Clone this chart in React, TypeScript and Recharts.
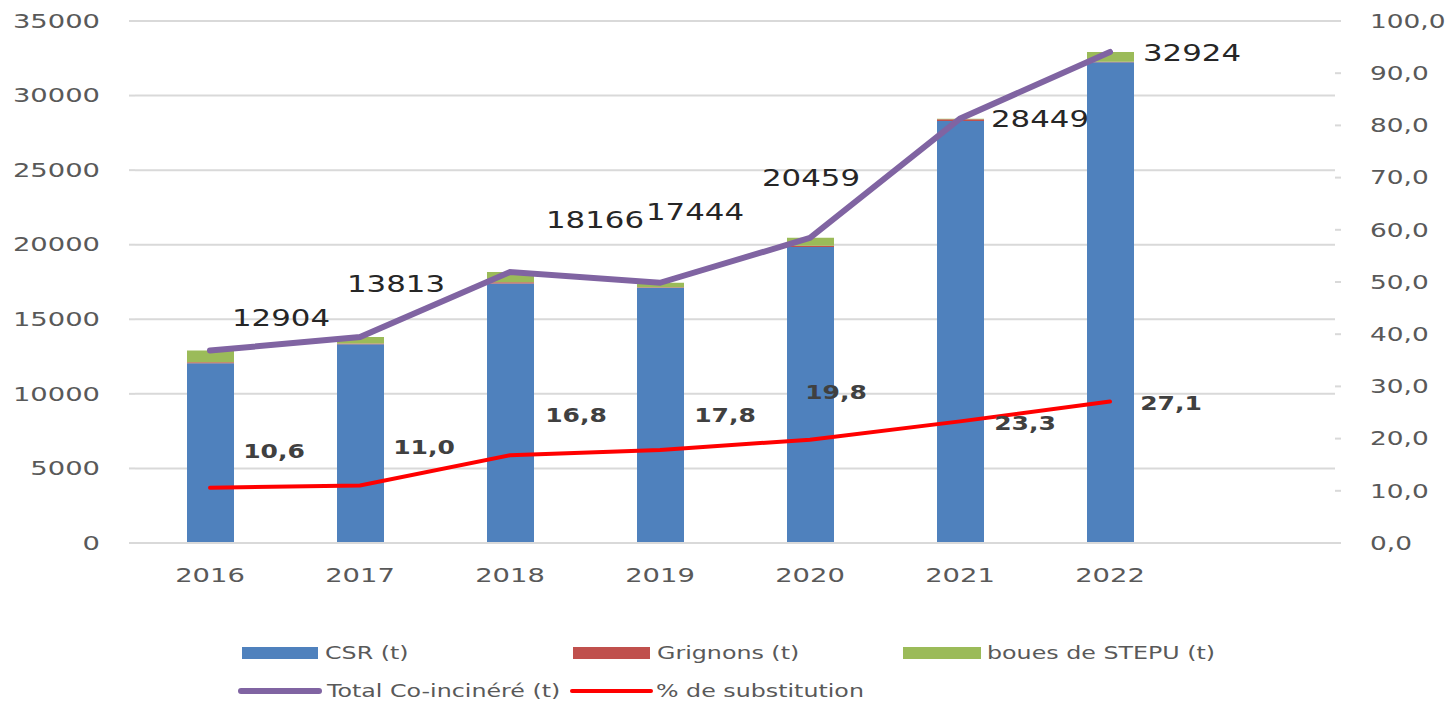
import React from 'react'
import { ComposedChart, Bar, Line, XAxis, YAxis, CartesianGrid, LabelList } from 'recharts'

const years = ['2016', '2017', '2018', '2019', '2020', '2021', '2022', '']
const csr = [12050, 13320, 17400, 17110, 19850, 28300, 32230]
const grignons = [70, 60, 80, 30, 80, 110, 30]
const boues = [784, 433, 686, 304, 529, 39, 664]
const totals = [12904, 13813, 18166, 17444, 20459, 28449, 32924]
const substitution = [10.6, 11.0, 16.8, 17.8, 19.8, 23.3, 27.1]

const leftTicks = [0, 5000, 10000, 15000, 20000, 25000, 30000, 35000]
const rightTicks = [0, 10, 20, 30, 40, 50, 60, 70, 80, 90, 100]

// label placement relative to the point (text centre)
const totalOffsets = [[71, -33], [36, -53], [85, -52], [35, -71], [1, -60], [80, 0], [82, 1]]
const pctOffsets = [[64, -37], [64, -39], [66, -40], [65, -35], [26, -48], [65, 2], [61, 1]]

const COLORS = {
  csr: '#4F81BD',
  grignons: '#C0504D',
  boues: '#9BBB59',
  total: '#8064A2',
  pct: '#FF0000',
  grid: '#D9D9D9',
  tick: '#595959'
}

const FONT = '"DejaVu Sans", sans-serif'

const data = years.map((year, i) => ({
  year,
  csr: csr[i],
  grignons: grignons[i],
  boues: boues[i],
  total: totals[i],
  pct: substitution[i]
}))

const fmtPct = (v: number) => v.toFixed(1).replace('.', ',')

function SText({ x, y, sx, anchor = 'middle', size, weight = 'normal', fill, children }: any) {
  return (
    <text
      transform={`translate(${x},${y}) scale(${sx},1)`}
      textAnchor={anchor}
      dominantBaseline="central"
      fontSize={size}
      fontWeight={weight}
      fill={fill}
      fontFamily={FONT}
    >
      {children}
    </text>
  )
}

const LeftTick = ({ x, y, payload }: any) => (
  <SText x={x - 27} y={y} sx={1.37} anchor="end" size={20} fill={COLORS.tick}>{payload.value}</SText>
)

const RightTick = ({ x, y, payload }: any) => (
  <SText x={x + 27} y={y} sx={1.32} anchor="start" size={20} fill={COLORS.tick}>{fmtPct(payload.value)}</SText>
)

const XTick = ({ x, y, payload }: any) => (
  <SText x={x} y={y + 24} sx={1.37} size={20} fill={COLORS.tick}>{payload.value}</SText>
)

const TotalLabel = ({ x, y, value, index }: any) => {
  if (value == null) return null
  const [dx, dy] = totalOffsets[index]
  return <SText x={x + dx} y={y + dy} sx={1.34} size={23} fill="#262626">{value}</SText>
}

const PctLabel = ({ x, y, value, index }: any) => {
  if (value == null) return null
  const [dx, dy] = pctOffsets[index]
  return <SText x={x + dx} y={y + dy} sx={1.25} size={20} weight="bold" fill="#404040">{fmtPct(value)}</SText>
}

function LegendOverlay() {
  const t = (x: number, y: number, s: string) => (
    <SText x={x} y={y} sx={1.32} anchor="start" size={18} fill={COLORS.tick}>{s}</SText>
  )
  return (
    <svg width={1446} height={704} style={{ position: 'absolute', left: 0, top: 0, pointerEvents: 'none' }}>
      <rect x={242} y={647} width={76} height={12} fill={COLORS.csr} />
      {t(325, 653, 'CSR (t)')}
      <rect x={573} y={647} width={77} height={12} fill={COLORS.grignons} />
      {t(657, 653, 'Grignons (t)')}
      <rect x={903} y={647} width={78} height={12} fill={COLORS.boues} />
      {t(987, 653, 'boues de STEPU (t)')}
      <line x1={241} y1={691} x2={319} y2={691} stroke={COLORS.total} strokeWidth={6} strokeLinecap="round" />
      {t(327, 691, 'Total Co-incinéré (t)')}
      <line x1={572} y1={691} x2={651} y2={691} stroke={COLORS.pct} strokeWidth={4} strokeLinecap="round" />
      {t(656, 691, '% de substitution')}
    </svg>
  )
}

export default function App() {
  return (
    <div style={{ position: 'relative', width: 1446, height: 704, background: '#fff', overflow: 'hidden' }}>
      <style>{'body{margin:0}'}</style>
      <ComposedChart width={1446} height={704} data={data} margin={{ top: 21, right: 0, bottom: 0, left: 0 }}>
        <CartesianGrid yAxisId="left" vertical={false} stroke={COLORS.grid} strokeWidth={2} />
        <XAxis
          dataKey="year"
          height={161}
          tick={<XTick />}
          tickLine={false}
          axisLine={{ stroke: COLORS.grid, strokeWidth: 2 }}
          interval={0}
        />
        <YAxis
          yAxisId="left"
          width={135}
          domain={[0, 35000]}
          ticks={leftTicks}
          tick={<LeftTick />}
          tickLine={{ stroke: COLORS.grid, strokeWidth: 2 }}
          tickSize={6}
          axisLine={false}
        />
        <YAxis
          yAxisId="right"
          orientation="right"
          width={111}
          domain={[0, 100]}
          ticks={rightTicks}
          tick={<RightTick />}
          tickLine={{ stroke: COLORS.grid, strokeWidth: 2 }}
          tickSize={6}
          axisLine={false}
        />
        <Bar yAxisId="left" dataKey="csr" stackId="a" fill={COLORS.csr} barSize={47} isAnimationActive={false} />
        <Bar yAxisId="left" dataKey="grignons" stackId="a" fill={COLORS.grignons} barSize={47} isAnimationActive={false} />
        <Bar yAxisId="left" dataKey="boues" stackId="a" fill={COLORS.boues} barSize={47} isAnimationActive={false} />
        <Line
          yAxisId="left"
          dataKey="total"
          stroke={COLORS.total}
          strokeWidth={6}
          strokeLinecap="round"
          dot={false}
          activeDot={false}
          isAnimationActive={false}
        >
          <LabelList dataKey="total" content={<TotalLabel />} />
        </Line>
        <Line
          yAxisId="right"
          dataKey="pct"
          stroke={COLORS.pct}
          strokeWidth={4}
          strokeLinecap="round"
          dot={false}
          activeDot={false}
          isAnimationActive={false}
        >
          <LabelList dataKey="pct" content={<PctLabel />} />
        </Line>
      </ComposedChart>
      <LegendOverlay />
    </div>
  )
}
